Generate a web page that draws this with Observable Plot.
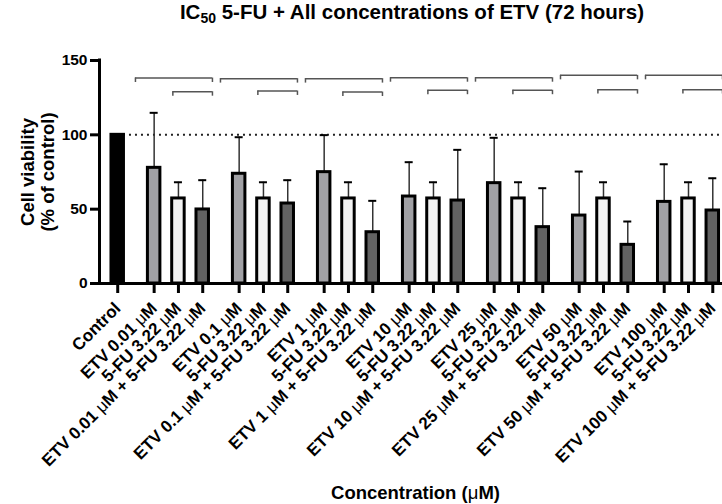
<!DOCTYPE html>
<html>
<head>
<meta charset="utf-8">
<script src="https://cdn.jsdelivr.net/npm/d3@7"></script>
<script src="https://cdn.jsdelivr.net/npm/@observablehq/plot@0.6"></script>
<style>
  body { margin: 0; background: #fff; font-family: "Liberation Sans", Arial, sans-serif; }
  #title { width: 722px; height: 36px; box-sizing: border-box; padding-left: 102px; padding-top: 1px; text-align: center;
           font-size: 20.5px; font-weight: bold; line-height: 22px; color: #000; white-space: nowrap; }
  #title sub { font-size: 14px; vertical-align: -4px; line-height: 0; }
</style>
</head>
<body>
<div id="title">IC<sub>50</sub> 5-FU + All concentrations of ETV (72 hours)</div>
<div id="chart"></div>
<script>
// ---- data ----
const concentrations = ["0.01", "0.1", "1", "10", "25", "50", "100"];
const controlMean = 100;
const etvMean   = [77.8, 73.8, 74.9, 58.5, 67.5, 45.7, 54.9];
const etvSD     = [37.0, 24.6, 24.9, 23.1, 30.5, 29.6, 25.3];
const fuMean    = [57.2, 57.2, 57.2, 57.2, 57.2, 57.2, 57.2];
const fuSD      = [10.9, 10.9, 10.9, 10.9, 10.9, 10.9, 10.9];
const comboMean = [49.8, 53.8, 34.5, 55.8, 37.9, 26.0, 49.1];
const comboSD   = [19.7, 15.7, 21.1, 34.1, 26.2, 15.7, 21.7];
const yTicks = [0, 50, 100, 150];
const bracketUpperY = [138.2, 137.8, 137.8, 138.4, 138.4, 140, 140];
const bracketLowerY = [129.0, 129.5, 128.8, 130, 130, 130.4, 130.4];

// ---- build table (positions derived from index: control, then groups of 3 with half-slot gaps) ----
const colors = {control: "#000000", etv: "#a1a1a5", fu: "#f3f3f3", combo: "#626262"};
const rows = [{pos: 0, mean: controlMean, sd: 0, label: "Control", fill: colors.control}];
concentrations.forEach((c, g) => {
  const base = 1.5 + 3.5 * g;
  rows.push({pos: base,     mean: etvMean[g],   sd: etvSD[g],   label: `ETV ${c} μM`, fill: colors.etv});
  rows.push({pos: base + 1, mean: fuMean[g],    sd: fuSD[g],    label: `5-FU 3.22 μM`, fill: colors.fu});
  rows.push({pos: base + 2, mean: comboMean[g], sd: comboSD[g], label: `ETV ${c} μM + 5-FU 3.22 μM`, fill: colors.combo});
});
const labelByPos = new Map(rows.map(d => [d.pos, d.label]));
const errRows = rows.filter(d => d.sd > 0);

const brackets = concentrations.map((c, g) => {
  const base = 1.5 + 3.5 * g;
  return {etv: base, fu: base + 1, combo: base + 2, yu: bracketUpperY[g], yl: bracketLowerY[g]};
});
const upH = [], upV = [];
brackets.forEach(b => {
  const a = b.etv - 0.77, e = b.combo + 0.4, l = b.fu - 0.23;
  upH.push({x1: a, x2: e, y: b.yu});
  upV.push({x: a, y1: b.yu - 3, y2: b.yu}, {x: e, y1: b.yu - 3, y2: b.yu});
  upH.push({x1: l, x2: e, y: b.yl});
  upV.push({x: l, y1: b.yl - 3, y2: b.yl}, {x: e, y1: b.yl - 3, y2: b.yl});
});

const xDomain = [-0.75, 24.9];
const bw = 0.257, cap = 0.165;

const chart = Plot.plot({
  width: 722, height: 468,
  marginTop: 24, marginBottom: 221, marginLeft: 99, marginRight: 0,
  style: {fontFamily: "'Liberation Sans', Arial, sans-serif", background: "white", color: "black"},
  x: {domain: xDomain},
  y: {domain: [0, 150]},
  color: {type: "identity"},
  marks: [
    Plot.ruleY([100], {x1: -bw, x2: xDomain[1], stroke: "#222", strokeWidth: 2, strokeDasharray: "2 4"}),
    Plot.ruleY(upH, {x1: "x1", x2: "x2", y: "y", stroke: "#555", strokeWidth: 1.5}),
    Plot.ruleX(upV, {x: "x", y1: "y1", y2: "y2", stroke: "#555", strokeWidth: 1.5}),
    Plot.ruleX(errRows, {x: "pos", y1: "mean", y2: d => d.mean + d.sd, stroke: "#333", strokeWidth: 1.5}),
    Plot.ruleY(errRows, {x1: d => d.pos - cap, x2: d => d.pos + cap, y: d => d.mean + d.sd, stroke: "#000", strokeWidth: 2}),
    Plot.rectY(rows, {x1: d => d.pos - bw, x2: d => d.pos + bw, y1: 0, y2: "mean", fill: "fill", stroke: "#000", strokeWidth: 3}),
    Plot.ruleX([xDomain[0]], {y1: 0, y2: 150, strokeWidth: 3, strokeLinecap: "square"}),
    Plot.ruleY([0], {x1: xDomain[0], x2: xDomain[1], strokeWidth: 3, strokeLinecap: "square"}),
    Plot.axisY(yTicks, {tickSize: 9, tickPadding: 3, strokeWidth: 3, fontSize: 15.5, fontWeight: "bold", label: null}),
    Plot.axisX(rows.map(d => d.pos), {tickSize: 10, tickPadding: 12, strokeWidth: 3, tickRotate: -45,
      tickFormat: d => labelByPos.get(d), fontSize: 17, fontWeight: "bold", label: null}),
    Plot.text(["Cell viability\n(% of control)"], {text: d => d, frameAnchor: "left", textAnchor: "middle", lineAnchor: "middle",
      rotate: -90, dx: -62, lineHeight: 1.08, fontSize: 18.5, fontWeight: "bold"}),
    Plot.text(["Concentration (μM)"], {text: d => d, frameAnchor: "bottom", lineAnchor: "middle", textAnchor: "middle",
      dy: 210, dx: 4.5, fontSize: 18.5, fontWeight: "bold"})
  ]
});
document.getElementById("chart").appendChild(chart);

// render the micro sign in regular weight, as in the reference
d3.select(chart).selectAll("text").each(function() {
  const t = d3.select(this);
  if (t.selectAll("tspan").size() > 0) return;
  const s = t.text();
  if (s.includes("μ")) {
    const parts = s.split("μ");
    t.text(null);
    parts.forEach((p, i) => {
      if (i > 0) t.append("tspan").attr("font-weight", "normal").text("μ");
      t.append("tspan").text(p);
    });
  }
});
</script>
</body>
</html>
